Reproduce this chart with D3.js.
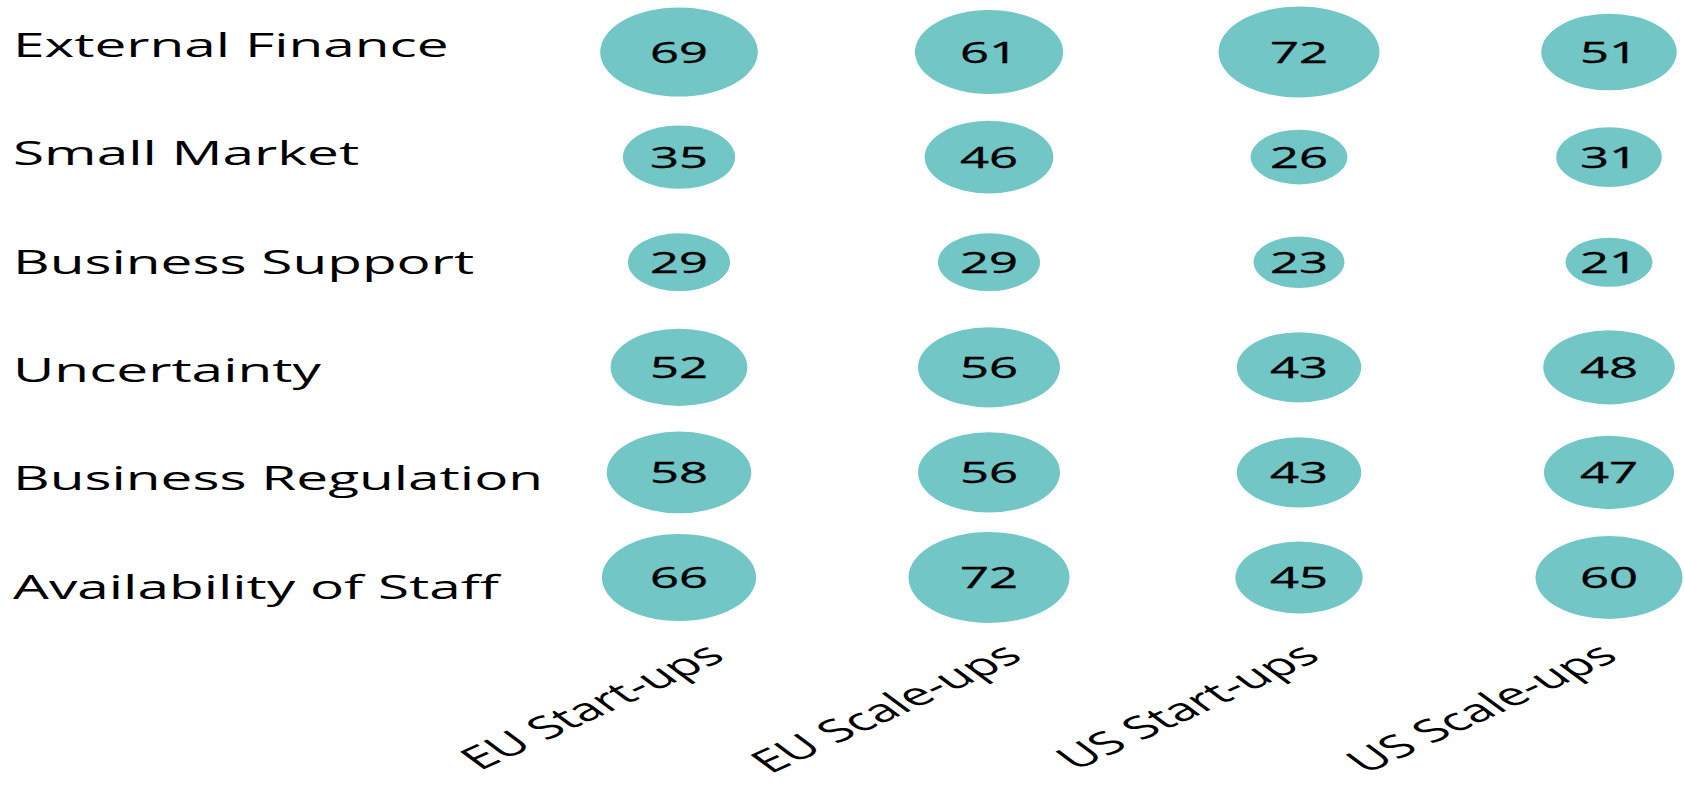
<!DOCTYPE html>
<html><head><meta charset="utf-8">
<script src="https://cdn.jsdelivr.net/npm/d3@7"></script>
<style>html,body{margin:0;padding:0;background:#fff;overflow:hidden}</style>
</head><body><svg id="chart" width="1684" height="787"></svg>
<script>
// ---- data ----
const factors = ["External Finance","Small Market","Business Support","Uncertainty","Business Regulation","Availability of Staff"];
const groups = ["EU Start-ups","EU Scale-ups","US Start-ups","US Scale-ups"];
const euStartups = [69,35,29,52,58,66];
const euScaleups = [61,46,29,56,56,72];
const usStartups = [72,26,23,43,43,45];
const usScaleups = [51,31,21,48,47,60];
const seriesValues = [euStartups, euScaleups, usStartups, usScaleups];

// ---- layout/style ----
const W = 1684, H = 787;
const FILL = "#72C6C6";
const FONT = "'Open Sans', 'Noto Sans', sans-serif";
const SX = 1.72; // horizontal stretch of the original picture

const svg = d3.select("#chart");
svg.append("rect").attr("width", W).attr("height", H).attr("fill", "#fff");

const x = d3.scalePoint().domain(groups).range([679, 1609]);
const y = d3.scalePoint().domain(factors).range([52, 577.5]);
const yLabel = d3.scalePoint().domain(factors).range([45, 587]);
const xLabel = d3.scalePoint().domain(groups).range([703, 1596]);
const maxV = d3.max(seriesValues.flat());
const rx = d3.scaleSqrt().domain([0, maxV]).range([0, 80.5]);
const ry = d3.scaleSqrt().domain([0, maxV]).range([0, 45.5]);

const cells = [];
groups.forEach((g, gi) => factors.forEach((f, fi) => cells.push({g, f, v: seriesValues[gi][fi]})));

const bubbles = svg.append("g").selectAll("g").data(cells).join("g");
bubbles.append("ellipse")
  .attr("cx", d => x(d.g)).attr("cy", d => y(d.f))
  .attr("rx", d => rx(d.v)).attr("ry", d => ry(d.v))
  .attr("fill", FILL);
bubbles.append("text")
  .attr("transform", d => `translate(${x(d.g)},${y(d.f)}) scale(${SX},1)`)
  .attr("text-anchor", "middle").attr("dy", "0.36em")
  .attr("font-family", FONT).attr("font-size", 29.5).attr("fill", "#000")
  .attr("stroke", "#000").attr("stroke-width", 0.35)
  .text(d => d.v);

// row labels
svg.append("g").selectAll("text").data(factors).join("text")
  .attr("transform", d => `translate(13,${yLabel(d)}) scale(${SX},1)`)
  .attr("dy", "0.36em")
  .attr("font-family", FONT).attr("font-size", 33).attr("fill", "#000")
  .text(d => d);

// column labels (rotated)
svg.append("g").selectAll("text").data(groups).join("text")
  .attr("transform", d => `translate(${xLabel(d)},641) scale(${SX},1) rotate(-38)`)
  .attr("text-anchor", "end").attr("dy", "0.72em")
  .attr("font-family", FONT).attr("font-size", 31.5).attr("fill", "#000")
  .text(d => d);
</script></body></html>
